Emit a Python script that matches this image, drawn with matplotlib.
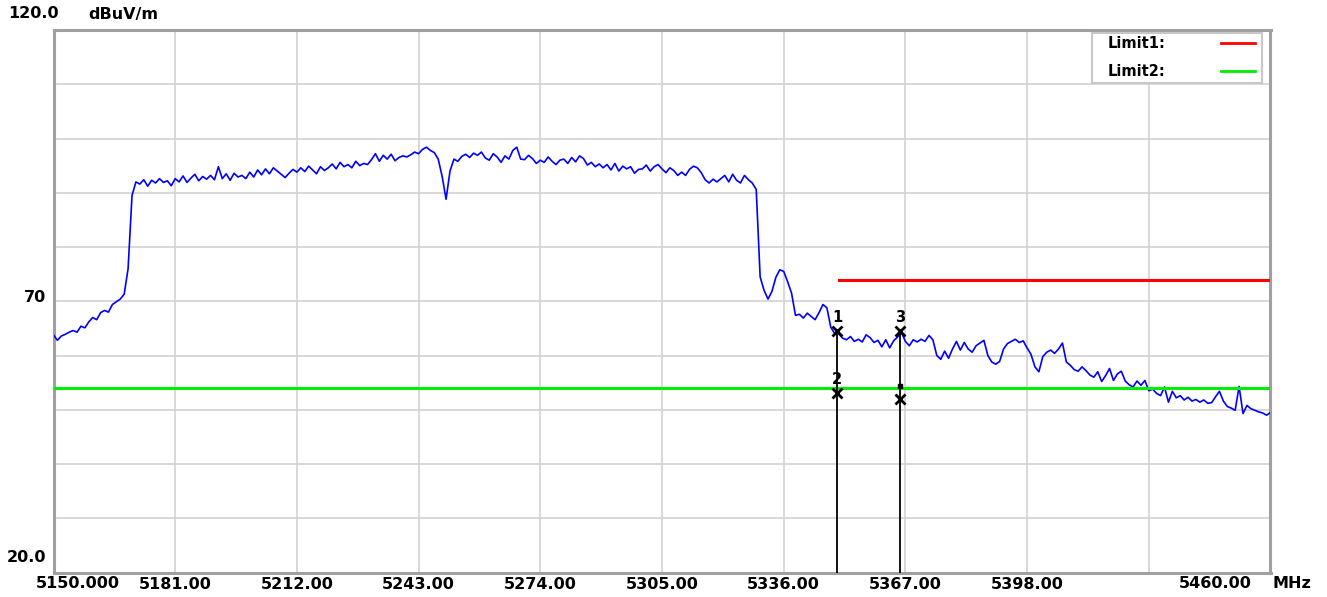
import numpy as np
import matplotlib
matplotlib.use("Agg")
import matplotlib.pyplot as plt
from matplotlib.patches import Rectangle
from matplotlib.lines import Line2D
from matplotlib.transforms import offset_copy

# ---------------- data ----------------
freq_start = 5150
freq_stop = 5460
freqs = np.arange(freq_start, freq_stop + 1)  # 1 MHz steps

levels = [
    63.8, 62.8, 63.6, 63.9, 64.3, 64.6, 64.3, 65.4, 65.1, 66.2,   # 5150
    67.0, 66.6, 67.9, 68.3, 68.0, 69.4, 69.9, 70.4, 71.3, 76.0,   # 5160
    89.5, 92.0, 91.6, 92.4, 91.2, 92.3, 91.8, 92.6, 91.9, 92.2,   # 5170
    91.3, 92.6, 92.0, 93.1, 91.9, 92.7, 93.4, 92.2, 93.0, 92.5,   # 5180
    93.2, 92.4, 94.8, 92.6, 93.5, 92.3, 93.6, 92.9, 93.2, 92.6,   # 5190
    93.8, 92.9, 94.2, 93.3, 94.4, 93.5, 94.6, 94.0, 93.4, 92.8,   # 5200
    93.6, 94.3, 93.8, 94.6, 93.9, 94.9, 94.2, 93.5, 94.8, 94.1,   # 5210
    94.6, 95.3, 94.4, 95.6, 94.8, 95.2, 94.6, 95.8, 95.0, 95.4,   # 5220
    95.2, 96.1, 97.2, 95.8, 96.9, 96.2, 97.1, 95.9, 96.5, 96.8,   # 5230
    96.6, 97.0, 97.5, 97.2, 98.0, 98.4, 97.8, 97.4, 96.2, 93.0,   # 5240
    88.8, 94.0, 96.2, 95.8, 96.7, 97.1, 96.5, 97.3, 96.9, 97.5,   # 5250
    96.4, 96.0, 97.2, 96.6, 95.6, 96.8, 96.2, 97.8, 98.4, 96.2,   # 5260
    96.1, 96.9, 96.3, 95.4, 96.0, 95.6, 96.6, 95.8, 95.2, 96.0,   # 5270
    96.2, 95.4, 96.5, 95.7, 96.8, 96.3, 95.1, 95.6, 94.8, 95.3,   # 5280
    94.6, 95.2, 94.2, 95.4, 94.0, 94.9, 94.4, 94.8, 93.6, 94.3,   # 5290
    94.4, 95.1, 94.0, 94.8, 95.2, 94.4, 93.7, 94.6, 94.1, 93.2,   # 5300
    93.8, 93.2, 94.3, 94.9, 94.6, 93.7, 92.4, 91.8, 92.5, 92.0,   # 5310
    92.6, 93.2, 92.0, 93.4, 92.3, 91.8, 93.2, 92.4, 91.8, 90.6,   # 5320
    74.5, 72.0, 70.4, 71.8, 74.4, 75.8, 75.5, 73.6, 71.5, 67.4,   # 5330
    67.6, 66.9, 67.8, 67.2, 66.6, 67.9, 69.4, 68.8, 65.2, 64.0,   # 5340
    64.0, 63.2, 62.9, 63.5, 62.6, 63.0, 62.5, 63.8, 63.3, 62.4,   # 5350
    62.8, 61.6, 62.9, 61.4, 62.7, 63.4, 64.2, 62.6, 61.8, 62.9,   # 5360
    62.5, 63.0, 62.6, 63.7, 62.9, 60.0, 59.3, 60.8, 59.5, 61.2,   # 5370
    62.6, 61.0, 62.4, 61.2, 60.6, 61.8, 62.3, 62.8, 60.0, 58.8,   # 5380
    58.4, 58.9, 61.2, 62.2, 62.6, 63.0, 62.4, 62.7, 61.4, 60.2,   # 5390
    57.9, 57.0, 59.8, 60.6, 61.0, 60.4, 61.2, 62.3, 58.8, 58.2,   # 5400
    57.4, 57.1, 57.9, 57.2, 56.4, 56.0, 57.0, 55.2, 56.3, 57.6,   # 5410
    55.4, 56.6, 57.1, 55.3, 54.6, 54.2, 55.3, 54.5, 55.4, 53.5,   # 5420
    53.8, 53.0, 52.6, 54.2, 51.4, 53.4, 52.2, 52.6, 51.8, 52.3,   # 5430
    51.6, 51.9, 51.4, 51.8, 51.2, 51.3, 52.4, 53.4, 51.6, 50.6,   # 5440
    50.3, 49.9, 54.3, 49.3, 50.8, 50.2, 49.9, 49.6, 49.4, 49.0, 49.5,  # 5450-5460
]

limit1_freq = [5350, 5460]
limit1_level = [74.0, 74.0]
limit2_freq = [5150, 5460]
limit2_level = [54.0, 54.0]

marker_ids = ["1", "2", "3", "4"]
marker_freq = [5349.6, 5349.6, 5365.6, 5365.6]
marker_level = [64.5, 53.0, 64.5, 51.9]

y_min, y_max = 20.0, 120.0
xtick_vals = [5150, 5181, 5212, 5243, 5274, 5305, 5336, 5367, 5398, 5429, 5460]
xtick_labels = ["", "5181.00", "5212.00", "5243.00", "5274.00",
                "5305.00", "5336.00", "5367.00", "5398.00", "", ""]
ytick_vals = [20, 30, 40, 50, 60, 70, 80, 90, 100, 110, 120]

# ---------------- figure ----------------
W, H = 1327, 597
fig = plt.figure(figsize=(W / 100, H / 100), dpi=100)
fig.patch.set_facecolor("white")


def fx(px):
    return px / W


def fy(py):
    return 1 - py / H


ax_l, ax_r, ax_t, ax_b = 53.5, 1270.5, 30.0, 572.5
ax = fig.add_axes([fx(ax_l), fy(ax_b), (ax_r - ax_l) / W, (ax_b - ax_t) / H])
ax.set_xlim(freq_start, freq_stop)
ax.set_ylim(y_min, y_max)

FONT = "DejaVu Sans"
FS = 11.5

ax.set_xticks(xtick_vals)
ax.set_xticklabels(xtick_labels, fontsize=FS, fontweight="bold", family=FONT)
ax.set_yticks(ytick_vals)
ax.set_yticklabels([])
ax.tick_params(axis="both", length=0, pad=3.5)
ax.grid(True, color="#d2d2d2", lw=1.2)
ax.set_axisbelow(True)
for side, sp in ax.spines.items():
    sp.set_color("#a0a0a0")
    sp.set_linewidth(2.2)

# trace
ax.plot(freqs, levels, color="#0000ff", lw=1.2, zorder=3)

# limits
ax.plot(limit1_freq, limit1_level, color="#ff0000", lw=2.2, zorder=4)
ax.plot(limit2_freq, limit2_level, color="#00ee00", lw=2.2, zorder=4)

# marker stems
ax.vlines([marker_freq[0], marker_freq[2]], y_min, [marker_level[0], marker_level[2]],
          color="black", lw=1.3, zorder=5)
# markers
ax.plot(marker_freq, marker_level, ls="none", marker="x", ms=7, mew=2,
        color="black", zorder=6)
for i in range(3):
    ax.annotate(marker_ids[i], xy=(marker_freq[i], marker_level[i]),
                xytext=(0, 10), textcoords="offset points", ha="center",
                va="center", fontsize=10.5, fontweight="bold", family=FONT,
                color="black", zorder=6)
# marker 4 label is mostly hidden: only a small stub visible
ax.plot([marker_freq[3]], [marker_level[3]], marker="s", ms=2.5, color="black",
        transform=offset_copy(ax.transData, fig=fig, x=0, y=10, units="points"),
        zorder=6)

# axis texts
fig.text(fx(8), fy(14), "120.0", ha="left", va="center", fontsize=FS,
         fontweight="bold", family=FONT)
fig.text(fx(88), fy(14), "dBuV/m", ha="left", va="center", fontsize=FS,
         fontweight="bold", family=FONT)
fig.text(fx(46), fy(297), "70", ha="right", va="center", fontsize=FS,
         fontweight="bold", family=FONT)
fig.text(fx(46), fy(557), "20.0", ha="right", va="center", fontsize=FS,
         fontweight="bold", family=FONT)
fig.text(fx(78), fy(583.5), "5150.000", ha="center", va="center", fontsize=FS,
         fontweight="bold", family=FONT)
fig.text(fx(1215), fy(583.5), "5460.00", ha="center", va="center", fontsize=FS,
         fontweight="bold", family=FONT)
fig.text(fx(1273), fy(583.5), "MHz", ha="left", va="center", fontsize=FS,
         fontweight="bold", family=FONT)

# legend box
fig.patches.append(Rectangle((fx(1092), fy(83)), (1262 - 1092) / W, (83 - 33) / H,
                             transform=fig.transFigure, facecolor="white",
                             edgecolor="#c8c8c8", lw=1.5, zorder=10))
fig.text(fx(1108), fy(43), "Limit1:", ha="left", va="center", fontsize=10.5,
         fontweight="bold", family=FONT, zorder=11)
fig.text(fx(1108), fy(71), "Limit2:", ha="left", va="center", fontsize=10.5,
         fontweight="bold", family=FONT, zorder=11)
fig.lines.append(Line2D([fx(1221), fx(1255)], [fy(43), fy(43)], color="#ff0000",
                        lw=2.0, transform=fig.transFigure, zorder=11))
fig.lines.append(Line2D([fx(1221), fx(1255)], [fy(71), fy(71)], color="#00ee00",
                        lw=2.0, transform=fig.transFigure, zorder=11))

fig.savefig("out.png", dpi=100, facecolor="white")
